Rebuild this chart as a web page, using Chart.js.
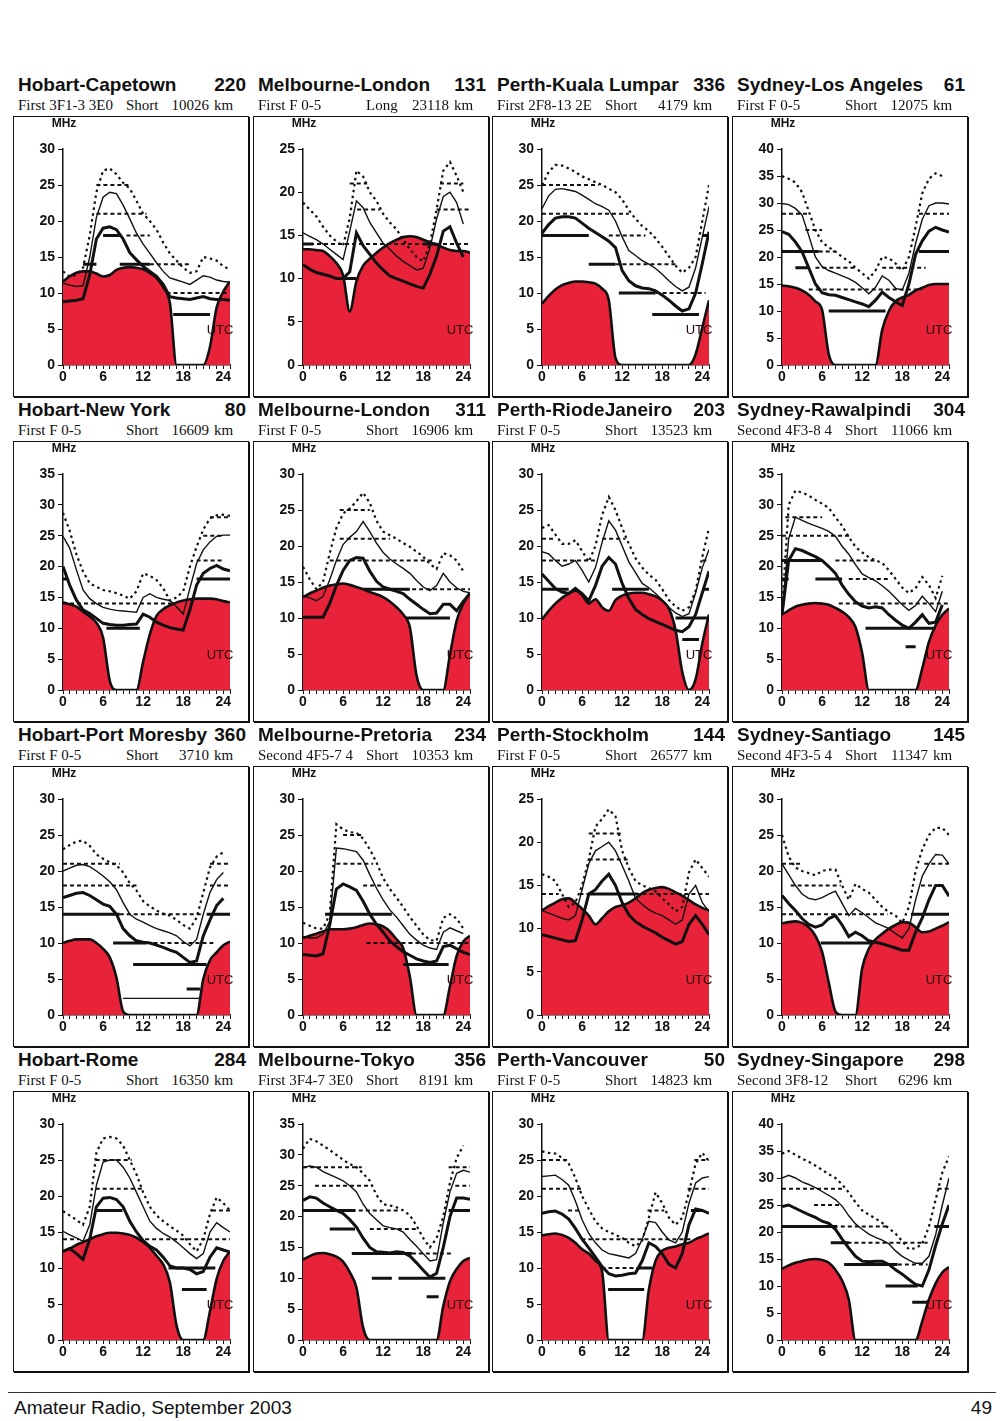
<!DOCTYPE html>
<html lang="en">
<head>
<meta charset="UTF-8">
<title>HF propagation predictions — Amateur Radio, September 2003</title>
<script src="https://cdn.jsdelivr.net/npm/chart.js"></script>
<style>
  body { margin: 0; background: #fff; }
  #page { position: relative; width: 1000px; height: 1421px; font-family: "Liberation Sans", Arial, sans-serif; color: #111; }
  .panel { position: absolute; width: 236px; height: 321px; }
  .title { position: absolute; left: 5px; top: -2px; width: 228px; font-weight: bold; font-size: 19px; line-height: 22px; white-space: nowrap; }
  .title .num { position: absolute; right: 0; top: 0; }
  .sub { position: absolute; left: 0; top: 21px; width: 236px; height: 17px; font-family: "Liberation Serif", "Times New Roman", serif; font-size: 15px; line-height: 17px; white-space: nowrap; }
  .sub span { position: absolute; top: 0; }
  .box { position: absolute; left: 0; top: 40px; width: 236px; height: 281px; border: 1px solid #111; box-shadow: 1px 1px 0 #111; box-sizing: border-box; }
  .plot { position: absolute; left: -1px; top: -1px; width: 236px; height: 281px; }
  .mhz { position: absolute; left: 34px; top: 0; width: 32px; text-align: center; font-weight: bold; font-size: 12px; line-height: 12px; }
  #rule { position: absolute; left: 8px; top: 1392px; width: 988px; border-top: 1px solid #333; }
  .foot { position: absolute; top: 1397px; font-size: 19px; line-height: 22px; }
</style>
</head>
<body>
<div id="page">
  <div id="rule"></div>
  <div class="foot" style="left:14px">Amateur Radio, September 2003</div>
  <div class="foot" style="right:8px">49</div>
</div>

<script>
  // one entry per panel, row by row
  const routes = ['Hobart-Capetown', 'Melbourne-London', 'Perth-Kuala Lumpar', 'Sydney-Los Angeles',
    'Hobart-New York', 'Melbourne-London', 'Perth-RiodeJaneiro', 'Sydney-Rawalpindi',
    'Hobart-Port Moresby', 'Melbourne-Pretoria', 'Perth-Stockholm', 'Sydney-Santiago',
    'Hobart-Rome', 'Melbourne-Tokyo', 'Perth-Vancouver', 'Sydney-Singapore'];
  const bearings = [220, 131, 336, 61, 80, 311, 203, 304, 360, 234, 144, 145, 284, 356, 50, 298];
  const modes = ['First 3F1-3 3E0', 'First F 0-5', 'First 2F8-13 2E', 'First F 0-5',
    'First F 0-5', 'First F 0-5', 'First F 0-5', 'Second 4F3-8 4',
    'First F 0-5', 'Second 4F5-7 4', 'First F 0-5', 'Second 4F3-5 4',
    'First F 0-5', 'First 3F4-7 3E0', 'First F 0-5', 'Second 3F8-12'];
  const paths = ['Short', 'Long', 'Short', 'Short', 'Short', 'Short', 'Short', 'Short',
    'Short', 'Short', 'Short', 'Short', 'Short', 'Short', 'Short', 'Short'];
  const distances = [10026, 23118, 4179, 12075, 16609, 16906, 13523, 11066,
    3710, 10353, 26577, 11347, 16350, 8191, 14823, 6296];
  const yMax = [30, 25, 30, 40, 35, 30, 30, 35, 30, 30, 25, 30, 30, 35, 30, 40];

  const hours = [0,1,2,3,4,5,6,7,8,9,10,11,12,13,14,15,16,17,18,19,20,21,22,23,24,25];
  const hourLabels = [0, 6, 12, 18, 24];

  // upper decile (dotted)
  const upper = [
    [13,12.3,12.5,13.5,18,24,27,27.3,26.5,25.3,24.5,22.8,21,20,18.8,17,15.5,14.5,13.5,12.8,13,15,14.8,14.5,13.7,13.3],
    [18.8,18,17.2,16,15,14.3,13.8,17,22.5,21.8,20,19,17.5,16.5,15.7,14.5,13.4,12.5,12,14,18,22.5,23.5,21.9,20,null],
    [25,26.8,27.8,27.7,27.3,26.8,26.2,25.8,25.4,25,24.5,24,23,21.5,20.3,19.3,18.6,17.6,16.4,15.1,13.8,12.8,13.5,15,20,25],
    [35,34.5,33.8,32,28.5,25,22.7,21.8,21,20,19.2,18,17,16,17.5,20,19.8,18.8,17.5,20,25.6,31.8,34.5,35.5,35,null],
    [28.7,25.8,22,19.2,17.3,16.7,16.2,16,15.7,15.3,14.8,16,18.9,18.5,17.8,16.5,14.5,15,16,20,23.2,26,27.8,28.3,28.4,28.2],
    [17.1,15.4,14,15,19,22.5,24.5,25.2,26.2,27.4,26,23.5,22,21.5,21,20.4,19.9,19.2,18.5,17.5,16.8,19,18.7,18,16.5,null],
    [22.5,22.9,21.6,20.3,20.3,20.8,19.3,17.8,20,24.3,26.8,25,22.5,20.3,18.3,17,16,15.3,14,12.5,11.6,11,11.5,13.8,18.5,22.5],
    [12.7,30,32.3,32,31.5,30.8,30.2,29.5,28,26.6,24.8,23.2,22.3,21.5,21,20.6,19.4,18,16.6,15.7,16.5,18.3,17,14.9,18.5,null],
    [23,23.6,24.1,24.2,23.5,22.3,21.7,21.2,20.8,19.8,18.3,17.3,15.8,15.1,14.5,14.1,13.8,13.2,12.5,12,13.5,17,20.5,22,22.6,null],
    [12.8,12.4,12,12,14,26.5,25.8,25.4,25.3,24.5,23,21.2,19,17.5,16.3,15,13.6,12.4,11.2,10.4,10.3,13.5,14,13.4,12,null],
    [16.3,16,15.5,14,12.5,13,15,18,21.8,22.7,23.8,23,19,17,15.5,15,14.7,14.3,13.5,12.8,12,12.5,16.5,18,17,16],
    [25,22,20.5,20,19.7,19.4,20,20.2,20.2,18,16,18.2,17.5,17,16,15,14.3,13.8,12.8,15,20,23,25,26,26,25],
    [17.9,17.3,16.7,16,18.5,26,28,28.2,28,27,25,23,20.5,18.5,17.3,16.5,15.8,15.2,14.5,13.3,12.3,14,17.5,19.8,19,18],
    [31,32.6,32.2,31.5,30.8,30,29.2,28.5,28,27,25.8,23.5,22,21.8,21.5,21,20.2,18.5,16.5,15,16.5,20,25.5,29.5,31.5,null],
    [26.2,26,25.9,25.3,24.5,22.5,20,18.2,16.5,15.5,15,14.6,14.2,13.5,13,13.8,17,20.5,19,17,16,17,20.5,24.5,26,24.8],
    [34.5,35,34.3,33.6,33,32.3,31.5,30.7,30,28.8,27.3,25.5,24,23.2,22.5,21.7,20.7,19.7,18.3,16.8,17,17.8,21,26,31,34]
  ];

  // MUF (thin line)
  const muf = [
    [11.4,11.1,10.9,11,15,20.5,23.3,24,23.8,22.2,20.3,18.3,16.8,15.5,14.2,13,12.1,11.8,11.5,11.2,11.8,12.4,12.2,11.8,11.6,11.5],
    [15.3,14.9,14.5,14,13.4,12.8,12.2,15.5,19,18.2,16.5,15.3,14.1,13.4,12.6,12,11.5,11,11.2,13.5,16.9,19.5,20,18.8,16.3,null],
    [21.7,23.5,24.4,24.5,24.3,24.1,23.6,23,22.4,22,21.5,20,17.8,15.9,15.2,14.5,14,13.4,12.6,11.7,10.9,10.3,10.8,13.5,17.8,22],
    [29.9,29.7,29,27.8,24,20,18.2,17.5,17,16.5,16,15.3,14.3,13.2,14.4,16.5,15.7,14.2,13.9,17,22.5,27,29.5,30,30,29.8],
    [24.9,23,19.5,16.2,14.8,14,13.4,13.1,12.9,12.8,12.7,12.6,15,15.6,15,14.7,14.5,13.5,12.3,16.5,20.5,22.7,24,24.9,25.1,25.1],
    [13.1,12.8,12.4,13,15.3,18,20.2,21.2,22,23.4,22,20.4,19.1,18.2,17.5,16.9,16.2,15.2,14.3,13.8,14.5,16.2,15,14.2,13.7,13.5],
    [19.2,18.9,18,17.2,17.5,18,16.6,15,17,20.5,23.5,22.2,20,17.8,16.3,14.8,14.2,13.4,12.5,11.5,10.7,10.2,10.6,13.5,17,19.5],
    [12.2,24.5,28,27.5,27,26.6,26.2,25.7,24.9,23.3,22,20.3,18.8,18.2,17.7,16.9,16,14.9,13.8,12.9,13.7,15.2,14,12.7,16,null],
    [20,20.4,20.8,20.9,20.6,20,19.3,18.5,17.4,15.6,14,13.3,12.9,12.4,12,11.7,11.4,11,10.2,9.6,10.5,14,17,18.8,19.8,null],
    [10.9,10.7,10.7,11.2,13,23.2,23.1,22.9,22.7,21.5,19.5,17.6,16,14.6,13.6,12.4,11.2,10.4,9.7,9.3,9.1,11.5,12.1,11.7,11.3,null],
    [12.1,11.8,11.5,11.2,11,11.5,14.5,17.5,19,19.5,20,19,17.3,15.5,13.5,12.8,12.2,11.8,11.5,11,10.5,11,14,15,13,12],
    [21,19.5,18,16.8,16.2,16,16.3,16.8,17.2,15.5,13.8,14.8,14.2,13.5,12.8,12.4,12,11.3,10.7,12,16,19.3,21,22.3,22.2,21],
    [15.1,14.6,14.2,13.7,16,21.5,24.7,25,25,24,22.5,20.5,18.5,16.5,15.5,14.8,14.3,13.6,12.8,12,11.3,12,15,16.3,15.6,15],
    [27.9,28.2,28,27.3,26.8,26.3,25.8,25,24,22,20.5,19.5,18.5,18.2,18,17.5,16.3,15.2,14,12.8,13,19,24,27,27.5,27.2],
    [22.7,22.8,22.9,22.3,21.5,19.3,16.7,14.8,13.5,12.5,12,11.8,11.6,11.4,12,14,16.5,16.3,15,13.9,13.5,15,19,21.8,22.5,22.7],
    [30,30.5,30,29.3,28.8,28.2,27.5,26.8,26,24.8,23,21.5,20.5,19.6,19,18.5,17.8,16.5,15.5,14.8,14.2,14.2,15.5,19.5,25,30]
  ];

  // optimum working frequency (thick line)
  const fot = [
    [8.8,8.9,9,9.2,12.5,17.5,19,19.2,18.8,17.5,15.6,14.6,13.7,13,12.3,11.2,9.5,9.3,9.2,9.1,9.3,9.5,9.2,9.1,9.1,9],
    [11.6,11.1,10.7,10.5,10.3,10,10,10.8,15.3,13.8,12.8,11.8,11,10.3,10,9.7,9.4,9.1,8.9,10.5,12.6,15.5,16,14.1,12.5,null],
    [18.3,19.5,20.4,20.6,20.6,20.4,19.7,19,18.4,17.8,17.2,16.3,13.1,11.7,11,10.7,10.6,10.3,9.7,9,8.2,7.5,7.8,10,14.1,18.5],
    [24.7,24.2,22.8,21,18,15,13.4,13,12.9,12.5,12.1,11.7,11.3,10.8,12,13.5,12.5,11.7,11,15,20.5,23,24.8,25.5,25,24.6],
    [20,17,14.6,13,12.4,11.6,10.8,10.6,10.5,10.5,10.6,10.7,12.3,11.8,11,10.5,10.1,9.9,9.7,13,17,18.9,19.7,20.2,19.6,19.3],
    [10.1,10.1,10.1,10.1,12,14.5,16.6,18,18.4,18.3,16.5,15.1,14.3,14,13.7,13.4,12.6,11.9,11.2,10.6,10.7,11.9,11.9,11,12.3,13.4],
    [16.1,15.1,14.1,13.6,13.4,14.1,13.4,12.4,14.5,17.2,18.4,17.5,14.8,12.7,11.2,10.5,9.9,9.5,9.1,8.7,8.3,8.1,8.8,10.5,13.5,16.5],
    [12.2,21,22.9,22.6,22.1,21.6,21,20,18.9,17,15.5,14.3,13.6,13.3,13.5,13.3,12.2,11.3,10.5,10,11,12.2,10.8,11,13.8,null],
    [16.3,16.6,16.9,17,16.6,16,15.4,15.1,14,12,11,10.3,10.1,10,9.7,9.4,9,8.7,8,7.3,7.5,11,13.2,15.2,16.2,null],
    [8.4,8.3,8.2,8.5,12.5,17.5,18.2,17.8,17.3,15.8,14,12.6,11.5,10.3,9.5,8.8,8.3,7.8,7.5,7.3,7.5,9.5,9.7,9.2,8.7,8.4],
    [9.3,9.1,8.9,8.7,8.5,8.6,11,14,14.5,15.5,16.3,15,13,11.6,10.8,10.3,9.9,9.5,9,8.6,8.2,8.5,10.5,11.5,10.5,9.3],
    [16.6,15.5,14.5,13.4,12.6,12.2,12.5,13.4,13.8,12.5,10.9,11.5,11,10.3,10.1,9.9,9.6,9.3,9,9,11.5,13.5,16,18,18,16.5],
    [12.3,12.7,12,11.2,14,18.5,19.7,19.8,19.5,18.5,16.5,15,13.8,13,12.5,11.5,10.3,10,10,9.8,9.2,9.5,11.5,12.8,12.5,12.2],
    [22.6,23.2,23,22.2,21.6,21,20.5,19.5,18.3,16.5,15,14.3,14.2,14.1,14.3,14.2,13.6,12.5,11.3,10.2,10.8,15,20,23,23,22.8],
    [17.6,17.8,17.9,17.5,16.8,15.5,14,12.8,11.5,10.2,9.2,8.9,9,9.2,9.3,11,13.5,13,12,10.5,10,12,16,18.2,18,17.6],
    [24.7,25,24.4,23.8,23.2,22.7,22,21.6,20.5,18.7,17,15.5,14.6,14.5,14.6,14.6,14,13,12.2,11.2,10.3,10,13,17.5,21.5,25]
  ];

  // lowest usable frequency (red area)
  const luf = [
    [11.6,12.3,12.8,13,13,12.7,12.3,12.5,13.2,13.5,13.6,13.5,13.3,12.8,12.1,10.8,8.6,0,0,0,0,0,2.5,8,10.2,11.6],
    [13.4,13.4,13.3,13.2,12.6,11.8,10.4,6.2,9.7,11.5,12.3,13,13.6,14.1,14.5,14.8,14.9,14.8,14.5,14.2,13.9,13.6,13.3,13.2,13.2,13],
    [8.5,9.6,10.5,11.1,11.4,11.6,11.6,11.5,11.3,10.6,9,1,0,0,0,0,0,0,0,0,0,0,0,1.5,5.2,9],
    [14.7,14.6,14.3,13.8,13,11.8,10.2,2,0,0,0,0,0,0,0,6.5,10,11.8,12.5,13,13.8,14.3,14.8,15,15,15],
    [14.2,13.9,13.5,12.7,11.9,10.9,8.5,1.5,0,0,0,0,4.6,9,12,13.1,13.7,14.2,14.5,14.7,14.8,14.8,14.8,14.7,14.4,14.2],
    [12.9,13.4,13.8,14.2,14.5,14.7,14.8,14.6,14.3,14,13.6,13.3,12.9,12.3,11.5,10.5,8.7,2,0,0,0,0,4.9,9.6,12,13.5],
    [9.8,11,12,12.8,13.4,13.8,13.2,12,12.6,11.5,11,12.5,13.1,13.4,13.5,13.5,13.3,13,12.4,11.3,8.3,2.5,0,1.5,6.5,10.5],
    [12.2,12.9,13.5,13.8,14,14.1,14,13.8,13.3,12.7,11.8,10.2,6,0,0,0,0,0,0,0,0,3.5,7.8,10.5,12.2,13.2],
    [10,10.3,10.5,10.5,10.5,10,9.2,8,5.2,0.5,0,0,0,0,0,0,0,0,0,0,0,5,7.6,8.7,9.7,10.2],
    [10.7,11,11.3,11.6,11.9,11.9,11.9,12,12.2,12.5,12.7,12.6,12.3,11.6,10.5,9.3,5.3,0,0,0,0,0,4,8.2,10.2,11],
    [12.1,12.6,13,13.4,13.5,13,12.3,11.5,10.5,11.2,12,12.5,12.7,13,13.5,14.1,14.5,14.7,14.8,14.6,14.2,13.8,13.3,12.8,12.4,12.1],
    [12.7,12.9,13,12.8,12.2,11,8.8,4.5,0.5,0,0,0,6.5,9.2,10.5,11.3,12,12.5,12.9,12.8,12.2,11.5,11.6,12,12.4,12.9],
    [12.3,12.7,13.2,13.6,14,14.4,14.7,14.9,14.9,14.8,14.6,14.2,13.6,12.8,11.7,10.5,8,2,0,0,0,0,4,8.5,11,12.3],
    [13,13.6,14,14.1,13.9,13.5,12.7,11,8.5,2,0,0,0,0,0,0,0,0,0,0,0,5.5,9.5,11.5,12.8,13.3],
    [14.5,14.7,14.8,14.6,14.2,13.5,12.6,12,11,9.5,0,0,0,0,0,0,7,11,12.4,12.8,13,13.3,13.5,14,14.4,14.8],
    [13.2,13.8,14.3,14.6,14.9,15,14.8,14.3,13,11,7.5,0,0,0,0,0,0,0,0,0,0,3.5,7.5,10.5,12.5,13.5]
  ];

  // band openings: [from hour, to hour, MHz]
  const dashBands = [
    [[5,10,25],[5,12.5,21],[9.5,13,18],[13,19,14],[15.5,24.5,10]],
    [[7,9.6,21],[8.1,11.5,18],[20.5,24,21],[20,25,18],[0,25,14]],
    [[0,8.5,25],[0,13,21],[10,15.5,18],[11,20,14],[17,24.5,10]],
    [[0,4,28],[20.5,25,28],[3.5,6,25],[5.5,8,21],[5,11,18],[15,21.5,18],[4,21,14]],
    [[0,16.5,14],[20,24,21],[21,24,25],[22,25,28]],
    [[5.5,10,25],[5.5,13,21],[4,19.5,18],[9,25,14]],
    [[0,2,21],[0,8,18],[9,12.5,21],[24,25,18]],
    [[0.5,6,28],[0,10.5,25],[8,14,21],[10,16,18],[8.5,25,14]],
    [[0,8.5,21],[0,11,18],[8.5,21,14],[12.5,22.5,10],[22,25,21],[22,25,18]],
    [[6,9,25],[5,10.5,21],[9,12,18],[9.5,25,10]],
    [[7,11.8,21],[7,12.8,18],[0,2.5,14],[5.6,25,14]],
    [[0,2.8,21],[1.3,8.8,18],[0,15.8,14],[21.3,25,21],[20.8,23.3,18]],
    [[4.9,10.3,25],[4.9,11.8,21],[22.3,25,18],[0,2.4,14],[12.3,25,14]],
    [[0,8.8,28],[21.8,25,28],[1.8,10.3,25],[22.8,25,25],[7.3,14.3,21],[10,17.3,18],[16.3,22.5,14]],
    [[0,3.9,25],[22.8,25,25],[0,5.9,21],[21.8,25,21],[3.9,5.9,18],[15.8,18.3,18],[5.9,22.3,14],[8.9,14.8,10]],
    [[0,9.3,28],[23.3,25,28],[4.8,8.8,25],[8.8,15.8,21],[9.8,21.8,18],[16.3,21.8,14]]
  ];
  const solidBands = [
    [[6,8.5,18],[3,5,14],[8.5,13,14],[16.5,22,7]],
    [[6,8,10],[0,1.5,14],[18,20,14]],
    [[0,7,18],[24,25.3,18],[7,11,14],[11.5,17,10],[16.5,23.5,7]],
    [[0,5.5,21],[20.5,25.3,21],[2,4,18],[7,15.5,10]],
    [[20,25.3,18],[0,0.6,18],[6.5,11.5,10]],
    [[9,16,14],[15.5,22,10]],
    [[0,4,14],[10.5,16,14],[24,25.3,14],[20,25,10],[21,23.5,7]],
    [[0,6,21],[0,1,18],[5,9,18],[12.5,23,10],[18.5,20,7]],
    [[0,8.5,14],[21.5,25.3,14],[7.5,12.5,10],[10.5,21.5,7],[18.5,20.5,3.6]],
    [[3.3,13.3,14],[15,21.8,7]],
    [[7,14.3,14]],
    [[5.8,13.3,10],[19.3,25.3,14]],
    [[4.9,8.9,18],[15.8,22.8,10],[17.8,21.5,7]],
    [[0,7.8,21],[21.8,25.3,21],[4,7.8,18],[7.3,16.3,14],[10.3,13.3,10],[14.3,21.3,10],[18.5,20.3,7]],
    [[9.9,15.3,7],[14.5,16.5,10],[22.3,24,18]],
    [[0,8.3,21],[22.8,25.3,21],[7.3,10,18],[9.3,17.3,14],[15.5,20.3,10],[19.5,21.8,7]]
  ];
  const fineBands = [[], [], [], [], [], [], [], [], [[9,20.5,2.3]], [], [], [], [], [], [], []];

  const colLeft = [13, 253, 492, 732];
  const rowTop = [76, 401, 726, 1051];
  const RED = 'rgb(232,34,56)';
  const INK = '#111';
  const SANS = '"Liberation Sans", Arial, sans-serif';

  function curve(vals) {
    return vals.map((v, i) => ({ x: hours[i], y: v }));
  }
  function bands(list) {
    const pts = [];
    list.forEach(b => {
      pts.push({ x: b[0], y: b[2] }, { x: b[1], y: b[2] }, { x: b[1], y: null });
    });
    return pts;
  }

  // "UTC" sits under the lines, just above the red area
  const utcLabel = {
    id: 'utcLabel',
    afterDatasetDraw(chart, args) {
      if (args.index !== chart.data.datasets.length - 1) return;
      const { ctx, chartArea } = chart;
      ctx.save();
      ctx.font = '13px ' + SANS;
      ctx.fillStyle = '#2a0808';
      ctx.textAlign = 'center';
      ctx.textBaseline = 'middle';
      ctx.fillText('UTC', chartArea.left + 157, chartArea.bottom - 35);
      ctx.restore();
    }
  };

  const page = document.getElementById('page');

  routes.forEach((route, p) => {
    const panel = document.createElement('div');
    panel.className = 'panel';
    panel.style.left = colLeft[p % 4] + 'px';
    panel.style.top = rowTop[Math.floor(p / 4)] + 'px';
    panel.innerHTML = `
      <div class="title">${route}<span class="num">${bearings[p]}</span></div>
      <div class="sub">
        <span style="left:5px">${modes[p]}</span>
        <span style="left:113px">${paths[p]}</span>
        <span style="right:40px">${distances[p]}</span>
        <span style="left:201px">km</span>
      </div>
      <div class="box">
        <div class="plot"><canvas></canvas></div>
        <div class="mhz">MHz</div>
      </div>`;
    page.appendChild(panel);

    const line = { borderColor: INK, pointRadius: 0, fill: false, spanGaps: false };
    const tickFont = { family: SANS, size: 14, weight: 'bold' };
    new Chart(panel.querySelector('canvas'), {
      type: 'line',
      data: {
        datasets: [
          { ...line, data: curve(upper[p]), borderWidth: 2.2, borderDash: [2.5, 3.5] },
          { ...line, data: curve(muf[p]), borderWidth: 1.4 },
          { ...line, data: curve(fot[p]), borderWidth: 3 },
          { ...line, data: bands(dashBands[p]), borderWidth: 2, borderDash: [4, 3] },
          { ...line, data: bands(solidBands[p]), borderWidth: 3 },
          { ...line, data: bands(fineBands[p]), borderWidth: 1.2 },
          { ...line, data: curve(luf[p]), borderWidth: 2.6, fill: 'origin',
            backgroundColor: RED, cubicInterpolationMode: 'monotone' }
        ]
      },
      options: {
        responsive: true,
        maintainAspectRatio: false,
        animation: false,
        events: [],
        layout: { padding: { top: 33, right: 19, left: 0, bottom: 0 } },
        plugins: { legend: { display: false }, tooltip: { enabled: false } },
        scales: {
          x: {
            type: 'linear', min: 0, max: 25,
            afterFit: s => { s.height = 32; },
            border: { display: true, color: INK, width: 1.5 },
            grid: { drawOnChartArea: false, drawTicks: true, tickLength: 4, color: INK },
            ticks: {
              stepSize: 1, autoSkip: false, maxRotation: 0, padding: 0, color: INK,
              font: tickFont,
              callback: v => hourLabels.includes(v) ? String(v) : ''
            }
          },
          y: {
            min: 0, max: yMax[p],
            afterFit: s => { s.width = 50; },
            border: { display: true, color: INK, width: 1.5 },
            grid: { drawOnChartArea: false, drawTicks: true, tickLength: 5, color: INK },
            ticks: { stepSize: 5, padding: 3, color: INK, font: tickFont }
          }
        }
      },
      plugins: [utcLabel]
    });
  });
</script>
</body>
</html>
